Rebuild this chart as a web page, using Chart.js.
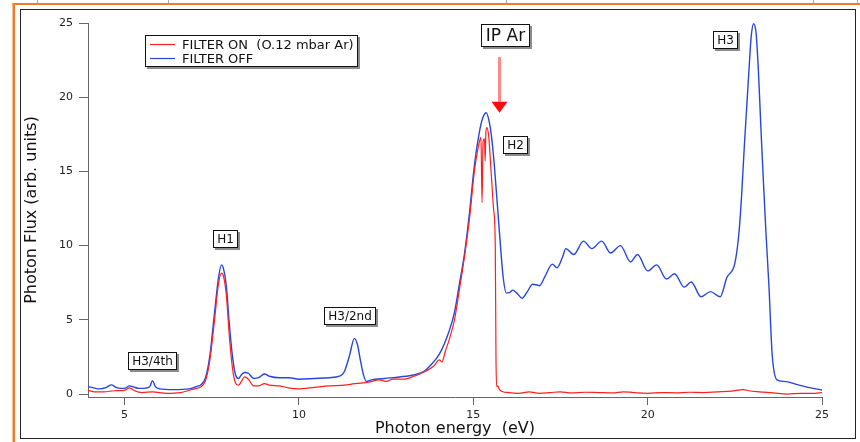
<!DOCTYPE html>
<html><head><meta charset="utf-8">
<script src="https://cdn.jsdelivr.net/npm/chart.js@4/dist/chart.umd.min.js"></script>
<style>html,body{margin:0;padding:0;background:#fff;overflow:hidden}canvas{display:block}</style>
</head><body>
<canvas id="c" width="860" height="442" style="width:860px;height:442px"></canvas>
<script>
// ---- data (photon energy in eV, photon flux in arb. units) ----
const offX = [3.95,4.14,4.28,4.48,4.62,4.75,4.9,5.02,5.14,5.25,5.4,5.6,5.72,5.8,5.88,6.0,6.4,6.85,7.05,7.2,7.32,7.44,7.58,7.69,7.78,7.84,7.92,8.0,8.09,8.18,8.27,8.35,8.44,8.55,8.7,8.84,9.01,9.15,9.44,9.73,10.0,10.44,10.87,11.16,11.3,11.45,11.59,11.68,11.76,11.85,11.93,12.08,12.45,12.88,13.31,13.6,13.74,14.03,14.3,14.46,14.6,14.75,14.89,15.03,15.17,15.27,15.37,15.46,15.52,15.6,15.73,15.86,15.95,16.05,16.13,16.25,16.4,16.55,16.7,16.82,16.9,17.05,17.27,17.4,17.57,17.65,17.88,18.16,18.4,18.68,18.94,19.22,19.51,19.71,20.0,20.26,20.54,20.77,21.05,21.25,21.53,21.8,22.08,22.27,22.5,22.62,22.7,22.77,22.84,22.91,22.97,23.04,23.11,23.18,23.25,23.32,23.39,23.48,23.57,23.71,23.9,24.05,24.26,24.6,25.0];
const offY = [0.5,0.4,0.35,0.45,0.62,0.45,0.38,0.4,0.55,0.48,0.38,0.4,0.5,0.9,0.5,0.35,0.3,0.35,0.5,0.65,1.1,2.5,5.5,7.8,8.7,8.4,7.2,4.8,2.6,1.3,1.05,1.3,1.45,1.4,1.05,1.1,1.35,1.2,1.1,1.1,1.0,1.05,1.1,1.2,1.5,2.6,3.75,3.3,2.3,1.3,0.85,0.95,1.05,1.15,1.3,1.55,1.85,2.7,4.2,5.5,7.4,9.5,12.2,15.4,17.6,18.6,18.95,18.3,17.4,15.5,11.5,7.8,6.8,6.85,7.0,6.8,6.45,6.9,7.4,7.35,7.3,7.9,8.75,8.5,9.3,9.8,9.4,10.3,9.8,10.3,9.5,10.0,8.9,9.4,8.3,8.7,7.75,8.1,7.2,7.55,6.55,6.9,6.55,7.85,8.8,10.9,13.6,16.6,19.3,22.0,24.1,24.95,24.3,21.6,17.8,14.3,11.0,7.2,2.7,0.95,0.85,0.8,0.65,0.45,0.27];
const onX = [3.95,4.14,4.4,4.7,5.0,5.14,5.3,5.5,5.8,6.2,6.6,7.0,7.2,7.32,7.44,7.58,7.69,7.78,7.84,7.92,8.0,8.09,8.18,8.27,8.35,8.44,8.55,8.7,8.84,9.01,9.15,9.44,9.73,10.0,10.44,10.87,11.3,11.6,12.0,12.3,12.5,12.7,13.0,13.3,13.6,13.85,14.03,14.1,14.2,14.3,14.46,14.6,14.75,14.89,15.03,15.14,15.22,15.25,15.28,15.32,15.34,15.36,15.39,15.44,15.51,15.58,15.63,15.65,15.67,15.7,15.75,15.85,16.0,16.3,16.6,16.9,17.2,17.5,17.8,18.2,18.6,19.0,19.3,19.6,20.0,20.4,20.8,21.2,21.6,22.0,22.4,22.75,22.9,23.2,23.6,24.0,24.4,24.8,25.0];
const onY = [0.25,0.15,0.15,0.22,0.25,0.42,0.2,0.1,0.15,0.05,0.1,0.35,0.5,0.9,2.2,5.0,7.4,8.15,7.9,6.6,4.0,1.8,0.75,0.6,0.85,1.15,1.0,0.55,0.55,0.7,0.6,0.55,0.4,0.35,0.45,0.55,0.6,0.7,0.8,0.95,0.85,1.0,1.0,1.2,1.5,1.85,2.3,2.15,2.9,3.6,5.0,7.0,9.3,11.8,15.0,16.6,17.3,12.9,17.0,17.2,15.7,17.6,17.95,17.4,15.0,12.5,10.0,2.5,0.5,0.55,0.3,0.15,0.1,0.05,0.15,0.05,0.1,0.15,0.08,0.12,0.1,0.08,0.15,0.1,0.05,0.1,0.08,0.12,0.1,0.15,0.2,0.3,0.22,0.15,0.08,0.0,0.05,0.05,0.1];
const seriesNames = ['FILTER ON  (O.12 mbar Ar)', 'FILTER OFF'];
const xTicks = [5,10,15,20,25];
const yTicks = [0,5,10,15,20,25];
const peakLabels = ['H3/4th','H1','H3/2nd','H2','H3'];
const peakLabelX = [5.8,7.88,11.45,16.2,22.22];
const peakLabelY = [2.25,10.45,5.27,16.76,23.85];
const ipArLabel = 'IP Ar';
const ipArEnergy = 15.76;
const ipArLabelY = 24.15;
const arrowTopY = 22.7;
const arrowTipY = 18.95;

const FONT = "'DejaVu Sans', 'Liberation Sans', sans-serif";
const RED = '#ff1f1f';
const BLUE = '#2746df';

const framePlugin = {
  id: 'frame',
  beforeDraw(chart) {
    const c = chart.ctx;
    c.save();
    c.fillStyle = '#fff';
    c.fillRect(0, 0, chart.width, chart.height);
    c.strokeStyle = '#aaa'; c.lineWidth = 1;
    [37, 168, 506, 813, 857].forEach(x => { c.beginPath(); c.moveTo(x + 0.5, 0); c.lineTo(x + 0.5, 3); c.stroke(); });
    c.fillStyle = '#f27a2a';
    c.fillRect(12.5, 3, 2.5, chart.height);
    c.fillRect(12.5, 3, chart.width, 2);
    c.strokeStyle = '#222'; c.lineWidth = 1;
    c.strokeRect(20.5, 9.5, 835, 429);
    c.restore();
  }
};

function drawBox(c, text, cx, cy, size, padX, padY) {
  c.font = size + 'px ' + FONT;
  const w = Math.round(c.measureText(text).width + 2 * padX);
  const h = Math.round(size + 2 * padY);
  const x = Math.round(cx - w / 2), y = Math.round(cy - h / 2);
  c.fillStyle = '#8c8c8c'; c.fillRect(x + 2, y + 2, w, h);
  c.fillStyle = '#fff'; c.fillRect(x, y, w, h);
  c.strokeStyle = '#111'; c.lineWidth = 1; c.strokeRect(x + 0.5, y + 0.5, w - 1, h - 1);
  c.fillStyle = '#111'; c.textAlign = 'center'; c.textBaseline = 'middle';
  c.fillText(text, x + w / 2, y + h / 2 + 1);
}

const notesPlugin = {
  id: 'notes',
  afterDatasetsDraw(chart) {
    const c = chart.ctx, xs = chart.scales.x, ys = chart.scales.y;
    c.save();
    peakLabels.forEach((t, i) => drawBox(c, t, xs.getPixelForValue(peakLabelX[i]), ys.getPixelForValue(peakLabelY[i]), 12, 4, 3));
    drawBox(c, ipArLabel, xs.getPixelForValue(ipArEnergy) + 6, ys.getPixelForValue(ipArLabelY), 17, 5, 3);
    // arrow at the Ar ionisation potential
    const ax = Math.round(xs.getPixelForValue(ipArEnergy)) - 0.5;
    const yTop = ys.getPixelForValue(arrowTopY), yTip = ys.getPixelForValue(arrowTipY);
    const headH = 11;
    c.strokeStyle = 'rgba(255,60,60,0.6)'; c.lineWidth = 3;
    c.beginPath(); c.moveTo(ax, yTop); c.lineTo(ax, yTip - headH); c.stroke();
    c.fillStyle = '#ff0a0a';
    c.beginPath(); c.moveTo(ax - 8, yTip - headH); c.lineTo(ax + 8, yTip - headH); c.lineTo(ax, yTip); c.closePath(); c.fill();
    // legend box
    const ca = chart.chartArea;
    const lx = ca.left + 57, ly = ca.top + 12;
    c.font = '13px ' + FONT;
    const tw = Math.max(...seriesNames.map(s => c.measureText(s).width));
    const lw = Math.round(37 + tw + 4), lh = 32;
    c.fillStyle = '#8c8c8c'; c.fillRect(lx + 2, ly + 2, lw, lh);
    c.fillStyle = '#fff'; c.fillRect(lx, ly, lw, lh);
    c.strokeStyle = '#111'; c.lineWidth = 1; c.strokeRect(lx + 0.5, ly + 0.5, lw - 1, lh - 1);
    chart.data.datasets.forEach((ds, i) => {
      const yy = ly + 9.5 + i * 14;
      c.strokeStyle = ds.borderColor; c.lineWidth = 1.2;
      c.beginPath(); c.moveTo(lx + 5, yy); c.lineTo(lx + 30, yy); c.stroke();
      c.fillStyle = '#111'; c.textAlign = 'left'; c.textBaseline = 'middle';
      c.fillText(ds.label, lx + 37, yy + 1);
    });
    c.restore();
  }
};

new Chart(document.getElementById('c'), {
  type: 'line',
  data: {
    datasets: [
      { label: seriesNames[0], data: onX.map((x, i) => ({ x, y: onY[i] })), borderColor: RED, borderWidth: 1.2, pointRadius: 0, cubicInterpolationMode: 'monotone', fill: false },
      { label: seriesNames[1], data: offX.map((x, i) => ({ x, y: offY[i] })), borderColor: BLUE, borderWidth: 1.4, pointRadius: 0, cubicInterpolationMode: 'monotone', fill: false }
    ]
  },
  options: {
    responsive: false,
    animation: false,
    devicePixelRatio: 1,
    layout: { padding: { left: 20, right: 38, top: 23, bottom: 0 } },
    plugins: { legend: { display: false }, tooltip: { enabled: false } },
    scales: {
      x: {
        type: 'linear', min: 3.95, max: 25,
        afterBuildTicks: s => { s.ticks = xTicks.map(v => ({ value: v })); },
        afterFit: s => { s.height = 45; },
        grid: { drawOnChartArea: false, drawTicks: true, tickLength: 8, color: '#666', lineWidth: 1 },
        border: { display: true, color: '#666', width: 1 },
        ticks: { color: '#222', font: { family: FONT, size: 11 }, padding: 4, maxRotation: 0 },
        title: { display: true, text: 'Photon energy  (eV)', color: '#111', font: { family: FONT, size: 16 }, padding: { top: 0, bottom: 4 } }
      },
      y: {
        type: 'linear', min: -0.2, max: 25,
        afterBuildTicks: s => { s.ticks = yTicks.map(v => ({ value: v })); },
        afterFit: s => { s.width = 68; },
        grid: { drawOnChartArea: false, drawTicks: true, tickLength: 9, color: '#666', lineWidth: 1 },
        border: { display: true, color: '#666', width: 1 },
        ticks: { color: '#222', font: { family: FONT, size: 11 }, padding: 6 },
        title: { display: true, text: 'Photon Flux (arb. units)', color: '#111', font: { family: FONT, size: 16 }, padding: { top: 2, bottom: 0 } }
      }
    }
  },
  plugins: [framePlugin, notesPlugin]
});
</script>
</body></html>
